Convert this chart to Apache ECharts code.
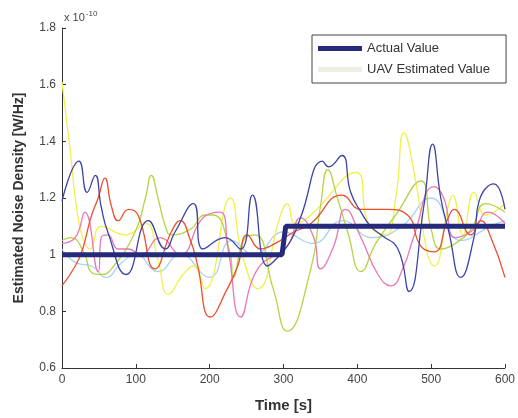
<!DOCTYPE html>
<html>
<head>
<meta charset="utf-8">
<script src="https://cdn.jsdelivr.net/npm/echarts@6/dist/echarts.min.js"></script>
<style>html,body{margin:0;padding:0;background:#fff}#c{width:518px;height:418px}</style>
</head>
<body>
<div id="c"></div>
<script>
// Actual value (step)
var actualT = [0, 298, 303, 600];
var actualV = [1.0, 1.0, 1.1, 1.1];

// UAV estimates (x1e-10), each series with its own key times
var blueT = [0,23,34,45,53,62,87,117,140,153,178,191,221,242,258,278,292,310,323,353,361,379,391,405,418,432,455,470,490,502,513,524,540,558,565,585,600];
var blueV = [1.19,1.33,1.22,1.28,1.17,1.08,0.93,1.12,1.02,1.08,1.18,1.02,1.06,1.02,1.21,0.96,0.99,1.05,1.13,1.33,1.31,1.35,1.22,1.15,1.10,1.07,1.02,0.87,1.17,1.39,1.20,1.08,0.92,1.06,1.19,1.25,1.16];

var redT = [0,18,28,39,49,58,67,76,90,103,126,148,160,174,183,201,224,238,251,269,289,314,337,379,405,441,468,486,504,523,531,554,567,581,600];
var redV = [0.89,0.96,1.02,1.13,1.20,1.27,1.17,1.12,1.16,1.14,0.95,1.08,1.12,1.05,0.97,0.78,0.88,0.96,1.07,1.02,1.04,1.08,1.11,1.21,1.16,1.16,1.14,1.03,1.01,1.13,1.16,1.07,1.12,1.06,0.92];

var yellowT = [0,11,19,28,38,53,86,113,130,144,164,178,194,228,244,265,296,305,316,337,398,415,438,452,463,479,495,504,523,529,543,558,574,600];
var yellowV = [1.61,1.37,1.18,1.06,1.02,1.10,1.07,1.11,0.98,0.86,0.93,0.96,0.88,1.20,1.00,0.88,1.14,1.18,1.11,1.14,1.29,1.11,1.07,1.20,1.43,1.26,1.00,0.96,1.17,1.21,1.07,1.22,1.14,1.18];

var greenT = [0,12,31,39,53,67,99,113,121,130,140,148,174,194,205,228,232,248,262,286,305,337,350,360,373,387,405,425,452,486,500,513,533,554,574,600];
var greenV = [1.05,1.06,1.00,0.94,0.93,0.95,1.08,1.20,1.28,1.20,1.10,1.07,1.09,1.14,1.14,1.00,0.92,1.06,1.07,0.88,0.73,0.95,1.17,1.30,1.20,1.08,0.94,1.04,1.14,1.26,1.09,1.02,1.04,1.09,1.18,1.15];

var pinkT = [0,18,31,49,53,62,76,90,106,133,160,191,214,225,242,265,305,323,341,350,368,384,405,428,445,463,476,504,517,533,558,577,600];
var pinkV = [1.04,1.06,1.15,0.94,1.06,1.07,1.02,1.02,1.00,1.06,1.00,1.13,1.15,1.02,0.78,0.95,1.03,1.13,1.06,0.95,1.03,1.16,1.06,0.93,0.89,0.96,1.06,1.24,1.20,1.06,1.09,1.15,1.11];

var cyanT = [0,20,40,60,80,100,130,160,200,230,260,300,340,380,420,460,500,540,580,600];
var cyanV = [1.02,0.97,0.96,0.92,0.97,1.00,0.94,1.00,0.92,1.05,1.00,1.08,1.04,1.12,1.06,1.10,1.20,1.05,1.10,1.12];

var xTicks = [0,100,200,300,400,500,600];
var yTicks = [0.6,0.8,1,1.2,1.4,1.6,1.8];

function pairs(t, v){ return t.map(function(x,i){ return [x, v[i]]; }); }

var estimates = [
  {name:'UAV Estimated Value', t:cyanT, v:cyanV, color:'#a8d4f0'},
  {name:'est-yellow', t:yellowT, v:yellowV, color:'#f2f04a'},
  {name:'est-green', t:greenT, v:greenV, color:'#b4d444'},
  {name:'est-pink', t:pinkT, v:pinkV, color:'#e878b4'},
  {name:'est-red', t:redT, v:redV, color:'#e8502c'},
  {name:'est-blue', t:blueT, v:blueV, color:'#3c44a8'}
];

var series = estimates.map(function(e){
  return {type:'line', name:e.name, data:pairs(e.t,e.v), smooth:0.5, symbol:'none',
    lineStyle:{color:e.color, width:1.3}, itemStyle:{color:e.color}, z:2, silent:true};
});
series.push({type:'line', name:'Actual Value', data:pairs(actualT, actualV), symbol:'none',
  lineStyle:{color:'#262a7a', width:5}, itemStyle:{color:'#262a7a'}, z:5});

var chart = echarts.init(document.getElementById('c'), null, {renderer:'canvas'});
chart.setOption({
  animation:false,
  backgroundColor:'#ffffff',
  textStyle:{fontFamily:'Liberation Sans, Arial, sans-serif'},
  grid:{left:62, right:13, top:28, bottom:48},
  xAxis:{type:'value', min:0, max:600, interval:100,
    axisLine:{lineStyle:{color:'#333', width:1}},
    axisTick:{inside:true, length:4, lineStyle:{color:'#333'}},
    axisLabel:{color:'#444', fontSize:12, margin:6, formatter:function(v){return xTicks.indexOf(v)>=0?String(v):'';}},
    splitLine:{show:false},
    name:'Time [s]', nameLocation:'middle', nameGap:30,
    nameTextStyle:{fontSize:15, fontWeight:'bold', color:'#333'}},
  yAxis:{type:'value', min:0.6, max:1.8, interval:0.2,
    axisLine:{show:true, lineStyle:{color:'#333', width:1}},
    axisTick:{show:true, inside:true, length:4, lineStyle:{color:'#333'}},
    axisLabel:{color:'#444', fontSize:12, margin:6, formatter:function(v){
      var r = Math.round(v*10)/10; return String(r);}},
    splitLine:{show:false},
    name:'Estimated Noise Density [W/Hz]', nameLocation:'middle', nameGap:36,
    nameTextStyle:{fontSize:14, fontWeight:'bold', color:'#333'}},
  legend:{orient:'vertical', left:312, top:35, itemWidth:44, itemHeight:5, itemGap:8,
    padding:[7,16,7,6], borderColor:'#444', borderWidth:1, backgroundColor:'#fff',
    textStyle:{fontSize:13, color:'#333'},
    data:[{name:'Actual Value', icon:'rect'},
          {name:'UAV Estimated Value', icon:'rect', itemStyle:{color:'#eef0e4'}}]},
  graphic:[{type:'text', left:64, top:10, style:{
    text:'{a|x 10}{b|-10}', rich:{a:{fontSize:11, fill:'#444', fontFamily:'Liberation Sans'},
      b:{fontSize:8, fill:'#444', verticalAlign:'top', padding:[0,0,8,1], fontFamily:'Liberation Sans'}}}}],
  series:series
});
</script>
</body>
</html>
